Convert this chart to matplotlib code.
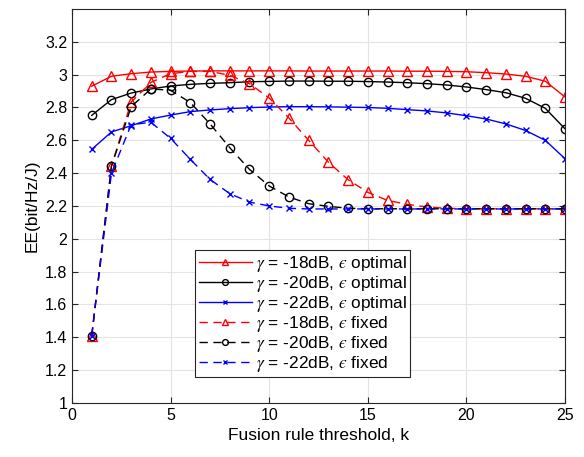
import matplotlib
matplotlib.use("Agg")
import matplotlib.pyplot as plt

plt.rcParams["font.family"] = ["Liberation Sans", "DejaVu Sans"]
plt.rcParams["mathtext.fontset"] = "stix"

k = list(range(1, 26))

# epsilon optimal
opt_18 = [2.93, 2.99, 3.006, 3.016, 3.02, 3.022, 3.023, 3.023, 3.023, 3.023, 3.023, 3.022,
          3.022, 3.022, 3.022, 3.022, 3.021, 3.021, 3.02, 3.018, 3.012, 3.004, 2.99, 2.96, 2.864]
opt_20 = [2.752, 2.848, 2.888, 2.913, 2.931, 2.941, 2.947, 2.951, 2.957, 2.959, 2.961, 2.961,
          2.960, 2.960, 2.958, 2.955, 2.951, 2.945, 2.937, 2.925, 2.909, 2.89, 2.856, 2.795, 2.67]
opt_22 = [2.545, 2.651, 2.689, 2.73, 2.754, 2.775, 2.785, 2.793, 2.799, 2.803, 2.805, 2.805,
          2.804, 2.802, 2.80, 2.795, 2.787, 2.779, 2.767, 2.75, 2.73, 2.70, 2.66, 2.60, 2.488]

# epsilon fixed
fix_18 = [1.41, 2.443, 2.833, 2.953, 3.006, 3.02, 3.02, 2.996, 2.945, 2.858, 2.736, 2.60,
          2.467, 2.36, 2.283, 2.234, 2.21, 2.194, 2.186, 2.184, 2.183, 2.183, 2.183, 2.183, 2.183]
fix_20 = [1.41, 2.443, 2.805, 2.913, 2.905, 2.83, 2.70, 2.555, 2.423, 2.322, 2.255, 2.214,
          2.198, 2.186, 2.183, 2.183, 2.183, 2.183, 2.183, 2.183, 2.183, 2.183, 2.183, 2.183, 2.183]
fix_22 = [1.41, 2.40, 2.695, 2.71, 2.612, 2.484, 2.362, 2.275, 2.224, 2.20, 2.186, 2.182,
          2.182, 2.182, 2.182, 2.182, 2.182, 2.182, 2.182, 2.182, 2.182, 2.182, 2.182, 2.182, 2.182]

labels = [r"$\gamma$ = -18dB, $ϵ$ optimal",
          r"$\gamma$ = -20dB, $ϵ$ optimal",
          r"$\gamma$ = -22dB, $ϵ$ optimal",
          r"$\gamma$ = -18dB, $ϵ$ fixed",
          r"$\gamma$ = -20dB, $ϵ$ fixed",
          r"$\gamma$ = -22dB, $ϵ$ fixed"]

fig = plt.figure(figsize=(5.84, 4.57), dpi=100)
ax = fig.add_axes([0.1233, 0.1182, 0.8442, 0.8621])

dash = (0, (6, 4))
series = [
    (opt_18, "red", "^", "-", 7),
    (opt_20, "black", "o", "-", 6),
    (opt_22, "blue", "x", "-", 4.5),
    (fix_18, "red", "^", dash, 7),
    (fix_20, "black", "o", dash, 6),
    (fix_22, "blue", "x", dash, 4.5),
]
for (vals, col, mk, ls, ms), lab in zip(series, labels):
    ax.plot(k, vals, color=col, marker=mk, linestyle=ls, linewidth=1.0,
            markersize=ms, markerfacecolor="none", markeredgewidth=1.0, label=lab)

ax.set_xlim(0, 25)
ax.set_ylim(1, 3.4)
ax.set_xticks([0, 5, 10, 15, 20, 25])
ax.set_yticks([1, 1.2, 1.4, 1.6, 1.8, 2, 2.2, 2.4, 2.6, 2.8, 3, 3.2])
ax.set_yticklabels(["1", "1.2", "1.4", "1.6", "1.8", "2", "2.2", "2.4", "2.6", "2.8", "3", "3.2"])
ax.tick_params(direction="in", labelsize=11.5, length=4, colors="#262626", top=True, right=True)
for t in ax.get_xticklabels() + ax.get_yticklabels():
    t.set_color("black")
for s in ax.spines.values():
    s.set_color("#262626")
    s.set_linewidth(0.8)
ax.grid(True, color="#e3e3e3", linewidth=0.8)
ax.set_axisbelow(True)

ax.set_xlabel("Fusion rule threshold, k", fontsize=12.5)
ax.set_ylabel("EE(bit/Hz/J)", fontsize=12.5)

leg = ax.legend(loc="lower left", bbox_to_anchor=(0.25, 0.066), fontsize=12.4,
                handlelength=3.1, handletextpad=0.2, labelspacing=0.0,
                borderpad=0.2, fancybox=False, framealpha=1, edgecolor="#262626",
                borderaxespad=0, markerscale=0.7)
leg.get_frame().set_linewidth(0.8)

fig.savefig("out.png", dpi=100)
